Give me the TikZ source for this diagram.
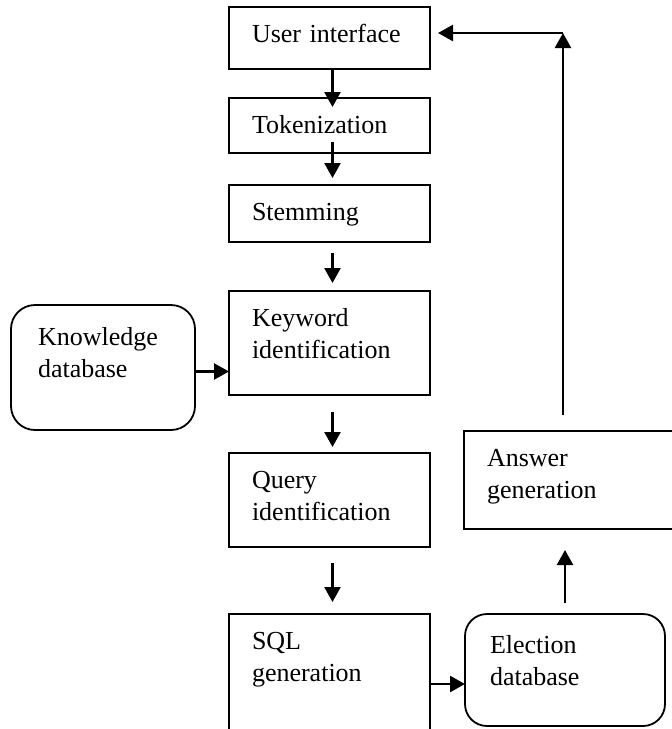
\documentclass[tikz,border=0pt]{standalone}
\usepackage{fontspec}
\setmainfont{Liberation Serif}
\usetikzlibrary{arrows.meta}

\begin{document}
\begin{tikzpicture}[x=1pt,y=-1pt,
   font=\fontsize{26}{32}\selectfont,
   stage/.style={draw,line width=1.8pt,outer sep=0pt,anchor=north west,
      align=left,inner xsep=23pt,inner ysep=8pt,text height=27pt},
   store/.style={stage,rounded corners=24pt},
   flow/.style={line width=2.4pt,-{Triangle[length=15pt,width=16pt]}}]
\useasboundingbox (0,0) rectangle (672,729);
\clip (0,0) rectangle (672,729);
\node[stage,text width=155pt,text depth=19pt] (ui) at (229,7) {User interface};
\node[stage,text width=155pt,text depth=12pt] (tok) at (229,98) {Tokenization};
\node[stage,text width=155pt,text depth=14pt] (stem) at (229,185) {Stemming};
\node[stage,text width=155pt,text depth=61pt] (key) at (229,291) {Keyword\\identification};
\node[stage,text width=155pt,text depth=51pt] (query) at (229,453) {Query\\identification};
\node[stage,text width=155pt,text depth=97pt] (sql) at (229,614) {SQL\\generation};
\node[store,inner xsep=27pt,text width=130pt,text height=32pt,text depth=77pt] (know) at (11,305) {Knowledge\\database};
\node[store,rounded corners=22pt,inner xsep=25pt,text width=150pt,text height=31pt,text depth=65pt] (elec) at (465,614) {Election\\database};
\node[stage,text width=169pt,text depth=55pt] (ans) at (464,431) {Answer\\generation};
\draw[flow,shorten >=-9pt] ([xshift=3pt]ui.south) -- ([xshift=3pt]tok.north);
\draw[flow,shorten <=-11pt,shorten >=7pt] ([xshift=3pt]tok.south) -- ([xshift=3pt]stem.north);
\draw[flow,shorten <=11pt,shorten >=8pt] ([xshift=3pt]stem.south) -- ([xshift=3pt]key.north);
\draw[flow,shorten <=17pt,shorten >=6pt] ([xshift=3pt]key.south) -- ([xshift=3pt]query.north);
\draw[flow,shorten <=16pt,shorten >=12pt] ([xshift=3pt]query.south) -- ([xshift=3pt]sql.north);
\draw[flow] ([yshift=-4pt]know.east) -- ([yshift=-4pt]know.east -| key.west);
\draw[flow] (sql.east) -- (sql.east -| elec.west);
\draw[flow,shorten <=11pt,shorten >=21pt] (elec.north) -- (elec.north |- ans.south);
\coordinate (turn) at (563,33);
\draw[flow,shorten <=16pt] (ans.north -| turn) -- (turn);
\draw[flow,shorten >=8pt] (turn) -- (turn -| ui.east);
\end{tikzpicture}
\end{document}
